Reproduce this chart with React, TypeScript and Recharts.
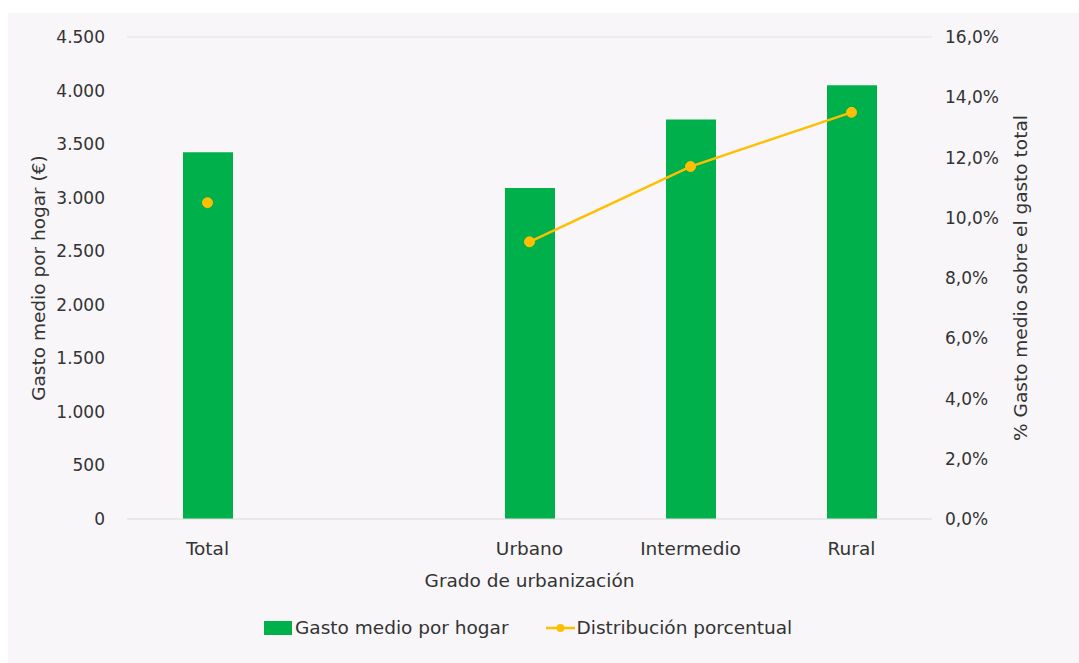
import React from "react";
import {
  ComposedChart,
  Bar,
  Line,
  XAxis,
  YAxis,
  CartesianGrid,
  Label,
} from "recharts";

// categories (the blank one is the gap between Total and the urbanisation groups)
const CATEGORIES = ["Total", "", "Urbano", "Intermedio", "Rural"];
const GASTO_MEDIO = [3425, null, 3090, 3730, 4050];
const DISTRIBUCION = [10.5, null, 9.2, 11.7, 13.5];

const LEFT_TICKS = [0, 500, 1000, 1500, 2000, 2500, 3000, 3500, 4000, 4500];
const RIGHT_TICKS = [0, 2, 4, 6, 8, 10, 12, 14, 16];

const GREEN = "#00B04A";
const GOLD = "#FFBF00";
const TEXT = "#333333";
const FONT = "'DejaVu Sans', sans-serif";

const data = CATEGORIES.map((name, i) => ({
  name,
  gasto: GASTO_MEDIO[i],
  pct: DISTRIBUCION[i],
}));

const fmtThousands = (v: number) =>
  v.toString().replace(/\B(?=(\d{3})+(?!\d))/g, ".");
const fmtPct = (v: number) => v.toFixed(1).replace(".", ",") + "%";

const tickStyle = { fill: TEXT, fontSize: 17, fontFamily: FONT };
const catStyle = { fill: TEXT, fontSize: 18.5, fontFamily: FONT };
const labelStyle = { fill: TEXT, fontSize: 18.5, fontFamily: FONT, textAnchor: "middle" as const };

export default function App() {
  return (
    <div
      style={{
        position: "absolute",
        left: 8,
        top: 13,
        width: 1071,
        height: 650,
        background: "#F8F6F8",
        fontFamily: FONT,
      }}
    >
      <ComposedChart
        width={1071}
        height={650}
        data={data}
        margin={{ top: 24, right: 0, bottom: 74, left: 0 }}
      >
        <CartesianGrid vertical={false} stroke="#E4E2E4" strokeWidth={1} />
        <XAxis
          dataKey="name"
          axisLine={{ stroke: "#E4E2E4" }}
          tickLine={false}
          tickSize={0}
          tickMargin={23}
          tick={catStyle}
          height={70}
          interval={0}
        >
          <Label value="Grado de urbanización" position="insideTop" offset={55} style={labelStyle} />
        </XAxis>
        <YAxis
          yAxisId="left"
          width={119}
          domain={[0, 4500]}
          ticks={LEFT_TICKS}
          tickFormatter={fmtThousands}
          axisLine={false}
          tickLine={false}
          tickSize={0}
          tickMargin={22}
          tick={tickStyle}
        >
          <Label value="Gasto medio por hogar (€)" angle={-90} position="center" dx={-29} style={labelStyle} />
        </YAxis>
        <YAxis
          yAxisId="right"
          orientation="right"
          width={147}
          domain={[0, 16]}
          ticks={RIGHT_TICKS}
          tickFormatter={fmtPct}
          axisLine={false}
          tickLine={false}
          tickSize={0}
          tickMargin={13}
          tick={tickStyle}
        >
          <Label
            value="% Gasto medio sobre el gasto total"
            angle={-90}
            position="center"
            dx={15}
            style={labelStyle}
          />
        </YAxis>
        <Bar yAxisId="left" dataKey="gasto" fill={GREEN} barSize={50} isAnimationActive={false} />
        <Line
          yAxisId="right"
          dataKey="pct"
          stroke={GOLD}
          strokeWidth={2.5}
          dot={{ r: 5, fill: GOLD, stroke: GOLD, strokeWidth: 1 }}
          connectNulls={false}
          isAnimationActive={false}
        />
      </ComposedChart>
      <div
        style={{
          position: "absolute",
          top: 604,
          left: 256,
          display: "flex",
          alignItems: "center",
          fontSize: 18.5,
          color: TEXT,
          whiteSpace: "nowrap",
        }}
      >
        <span style={{ width: 28, height: 14, background: GREEN, display: "inline-block", marginRight: 3 }} />
        <span>Gasto medio por hogar</span>
        <svg width={29} height={12} style={{ marginLeft: 37, marginRight: 2 }}>
          <line x1={0} y1={6} x2={29} y2={6} stroke={GOLD} strokeWidth={2.5} />
          <circle cx={14.5} cy={6} r={4} fill={GOLD} />
        </svg>
        <span>Distribución porcentual</span>
      </div>
    </div>
  );
}
